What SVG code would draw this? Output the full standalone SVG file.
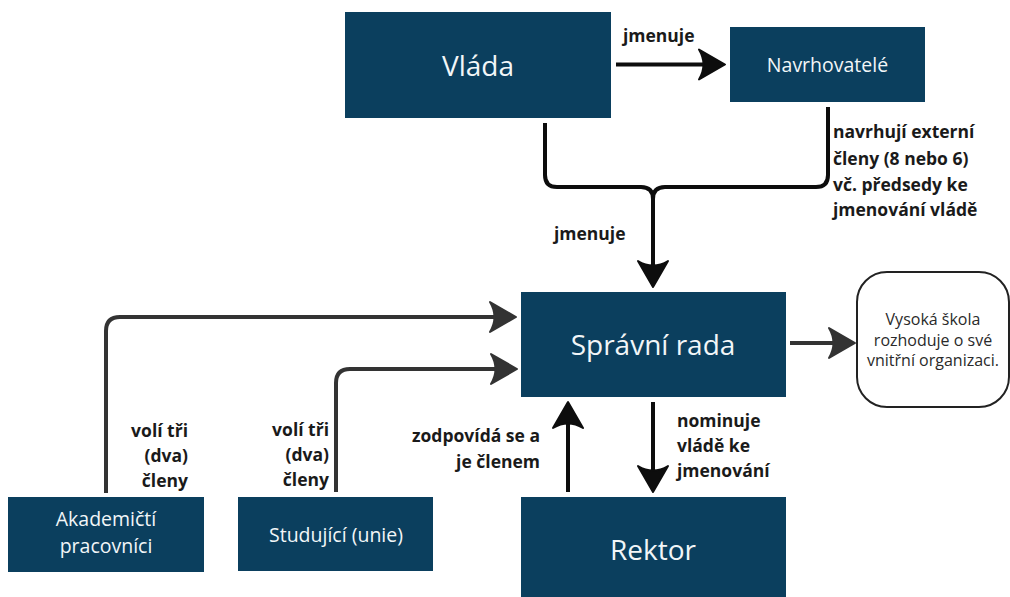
<svg xmlns="http://www.w3.org/2000/svg" width="1010" height="597" viewBox="0 0 1010 597">
  <defs>
    <style>
      .box { fill: #0b3f5e; }
      .big { font-family: "Open Sans", "Liberation Sans", sans-serif; font-size: 28px; fill: #f2f6f8; text-anchor: middle; }
      .mid { font-family: "Open Sans", "Liberation Sans", sans-serif; font-size: 19.5px; fill: #f2f6f8; text-anchor: middle; }
      .note { font-family: "Open Sans", "Liberation Sans", sans-serif; font-size: 16px; fill: #2a2a2a; text-anchor: middle; }
      .lbl { font-family: "Open Sans", "Liberation Sans", sans-serif; font-size: 17.5px; font-weight: 700; fill: #1a1a1a; }
      .end { text-anchor: end; }
      .ln-dark { fill: none; stroke: #0d0d0d; stroke-width: 4; stroke-linecap: butt; stroke-linejoin: round; }
      .ln-grey { fill: none; stroke: #333333; stroke-width: 4; stroke-linecap: butt; stroke-linejoin: round; }
    </style>
    <marker id="head-dark" markerUnits="userSpaceOnUse" markerWidth="34" markerHeight="38" viewBox="-30 -19 34 38" refX="-14" refY="0" orient="auto" overflow="visible">
      <path d="M0,0 L-26,-15 Q-17,0 -26,15 Z" fill="#0d0d0d" stroke="#0d0d0d" stroke-width="2" stroke-linejoin="round"/>
    </marker>
    <marker id="head-grey" markerUnits="userSpaceOnUse" markerWidth="34" markerHeight="38" viewBox="-30 -19 34 38" refX="-14" refY="0" orient="auto" overflow="visible">
      <path d="M0,0 L-26,-15 Q-17,0 -26,15 Z" fill="#333333" stroke="#333333" stroke-width="2" stroke-linejoin="round"/>
    </marker>
  </defs>

  <rect width="1010" height="597" fill="#ffffff"/>

  <!-- connectors -->
  <g id="connectors">
    <path class="ln-dark" d="M616,64.5 H711" marker-end="url(#head-dark)"/>
    <path class="ln-dark" d="M545,123 V175 Q545,187 557,187 H641 Q653,187 653,199 V273" marker-end="url(#head-dark)"/>
    <path class="ln-dark" d="M828,107 V175 Q828,187 816,187 H665 Q653,187 653,199"/>
    <path class="ln-grey" d="M106,493 V331 Q106,317 120,317 H502" marker-end="url(#head-grey)"/>
    <path class="ln-grey" d="M336,492 V383 Q336,369 350,369 H503" marker-end="url(#head-grey)"/>
    <path class="ln-dark" d="M568,492 V416" marker-end="url(#head-dark)"/>
    <path class="ln-dark" d="M653,402 V478" marker-end="url(#head-dark)"/>
    <path class="ln-grey" d="M790,343 H841" marker-end="url(#head-grey)"/>
  </g>

  <!-- connector labels -->
  <g id="labels">
    <text class="lbl" x="623" y="42">jmenuje</text>
    <text class="lbl" x="554" y="240">jmenuje</text>
    <text class="lbl" x="833" y="138">navrhují externí</text>
    <text class="lbl" x="833" y="164.5">členy (8 nebo 6)</text>
    <text class="lbl" x="833" y="190.5">vč. předsedy ke</text>
    <text class="lbl" x="833" y="216">jmenování vládě</text>
    <text class="lbl end" x="188" y="437">volí tři</text>
    <text class="lbl end" x="188" y="462">(dva)</text>
    <text class="lbl end" x="188" y="487">členy</text>
    <text class="lbl end" x="329" y="436">volí tři</text>
    <text class="lbl end" x="329" y="461">(dva)</text>
    <text class="lbl end" x="329" y="486">členy</text>
    <text class="lbl end" x="540" y="442">zodpovídá se a</text>
    <text class="lbl end" x="540" y="468">je členem</text>
    <text class="lbl" x="677" y="427">nominuje</text>
    <text class="lbl" x="677" y="452">vládě ke</text>
    <text class="lbl" x="677" y="477">jmenování</text>
  </g>

  <!-- nodes -->
  <g id="vlada">
    <rect class="box" x="345" y="12" width="266" height="106"/>
    <text class="big" x="478" y="76">Vláda</text>
  </g>
  <g id="navrhovatele">
    <rect class="box" x="730" y="27" width="195" height="75"/>
    <text class="mid" x="827.5" y="72">Navrhovatelé</text>
  </g>
  <g id="spravni-rada">
    <rect class="box" x="521" y="292" width="265" height="105"/>
    <text class="big" x="653" y="355">Správní rada</text>
  </g>
  <g id="rektor">
    <rect class="box" x="521" y="497" width="265" height="110"/>
    <text class="big" x="653" y="560">Rektor</text>
  </g>
  <g id="akademicti">
    <rect class="box" x="8" y="497" width="196" height="75"/>
    <text class="mid" x="106" y="526">Akademičtí</text>
    <text class="mid" x="106" y="553">pracovníci</text>
  </g>
  <g id="studujici">
    <rect class="box" x="238" y="497" width="195" height="74"/>
    <text class="mid" x="336" y="542">Studující (unie)</text>
  </g>
  <g id="vysoka-skola">
    <rect x="857" y="272" width="152" height="135" rx="30" ry="30" fill="#ffffff" stroke="#222222" stroke-width="2"/>
    <text class="note" x="933" y="325">Vysoká škola</text>
    <text class="note" x="933" y="345.5">rozhoduje o své</text>
    <text class="note" x="933" y="366">vnitřní organizaci.</text>
  </g>
</svg>
